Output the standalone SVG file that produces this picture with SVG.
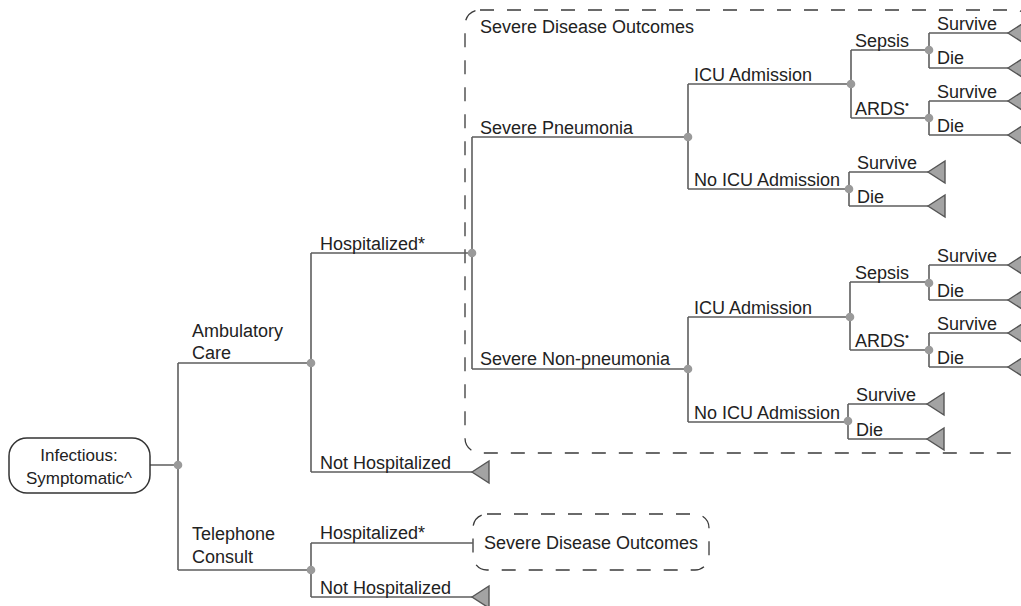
<svg xmlns="http://www.w3.org/2000/svg" width="1021" height="606" viewBox="0 0 1021 606">
<defs>
<style>
.ln{fill:none;stroke:#5e5e5e;stroke-width:1.6}
.dot{fill:#9a9a9a;stroke:none}
.tri{fill:#a3a3a3;stroke:#555;stroke-width:1.4;stroke-linejoin:miter}
.box{fill:none;stroke:#3a3a3a;stroke-width:1.3;stroke-dasharray:14 13}
.root{fill:#fff;stroke:#333;stroke-width:1.5}
text{font-family:"Liberation Sans",Arial,sans-serif;font-size:18px;fill:#222}
.sm{font-size:17px}
</style>
<polygon id="t" class="tri" points="0,0 17,-11 17,11"/>
<circle id="d" class="dot" r="4.3"/>
</defs>

<g id="boxes">
<rect id="sdo-big" class="box" x="465" y="10" width="565" height="443" rx="15"/>
<rect id="sdo-small" class="box" x="473" y="514" width="236" height="56" rx="14"/>
</g>

<g id="connectors">
<path class="ln" d="M150,465 H178 M178,363 V570 M178,363 H311 M178,570 H311"/>
<path class="ln" d="M311,253 V472 M311,253 H472 M311,472 H472"/>
<path class="ln" d="M311,543 V597 M311,543 H473 M311,597 H472"/>
<path class="ln" d="M472,137 V369 M472,137 H688 M472,369 H688"/>
<path class="ln" d="M688,84 V189 M688,84 H851 M688,189 H849"/>
<path class="ln" d="M851,50 V118 M851,50 H929 M851,118 H929"/>
<path class="ln" d="M929,33 V68 M929,33 H1008 M929,68 H1008"/>
<path class="ln" d="M929,101 V135 M929,101 H1008 M929,135 H1008"/>
<path class="ln" d="M849,172 V206 M849,172 H928 M849,206 H928"/>
<path class="ln" d="M688,317 V422 M688,317 H850 M688,422 H848"/>
<path class="ln" d="M850,282 V350 M850,282 H929 M850,350 H929"/>
<path class="ln" d="M929,265 V300 M929,265 H1008 M929,300 H1008"/>
<path class="ln" d="M929,333 V367 M929,333 H1008 M929,367 H1008"/>
<path class="ln" d="M848,404 V439 M848,404 H927 M848,439 H927"/>
</g>

<g id="chance-nodes">
<use href="#d" x="178" y="465"/>
<use href="#d" x="311" y="363"/>
<use href="#d" x="311" y="570"/>
<use href="#d" x="472" y="253"/>
<use href="#d" x="688" y="137"/>
<use href="#d" x="851" y="84"/>
<use href="#d" x="929" y="50"/>
<use href="#d" x="929" y="118"/>
<use href="#d" x="849" y="189"/>
<use href="#d" x="688" y="369"/>
<use href="#d" x="850" y="317"/>
<use href="#d" x="929" y="283"/>
<use href="#d" x="929" y="350"/>
<use href="#d" x="848" y="421"/>
</g>

<g id="terminal-nodes">
<use href="#t" x="472" y="472"/>
<use href="#t" x="472" y="597"/>
<use href="#t" x="1008" y="33"/>
<use href="#t" x="1008" y="68"/>
<use href="#t" x="1008" y="101"/>
<use href="#t" x="1008" y="135"/>
<use href="#t" x="928" y="172"/>
<use href="#t" x="928" y="206"/>
<use href="#t" x="1008" y="265"/>
<use href="#t" x="1008" y="300"/>
<use href="#t" x="1008" y="333"/>
<use href="#t" x="1008" y="367"/>
<use href="#t" x="927" y="404"/>
<use href="#t" x="927" y="439"/>
</g>

<g id="root">
<rect class="root" x="9" y="438" width="141" height="55" rx="18"/>
<text class="sm" x="79" y="461" text-anchor="middle">Infectious:</text>
<text class="sm" x="79" y="484" text-anchor="middle">Symptomatic^</text>
</g>

<g id="labels">
<text x="192" y="337">Ambulatory</text>
<text x="192" y="359">Care</text>
<text x="192" y="540">Telephone</text>
<text x="192" y="563">Consult</text>
<text x="320" y="250">Hospitalized*</text>
<text x="320" y="469">Not Hospitalized</text>
<text x="320" y="539">Hospitalized*</text>
<text x="320" y="594">Not Hospitalized</text>
<text x="591" y="549" text-anchor="middle">Severe Disease Outcomes</text>
<text x="480" y="33">Severe Disease Outcomes</text>
<text x="480" y="134">Severe Pneumonia</text>
<text x="480" y="365">Severe Non-pneumonia</text>
<text x="694" y="81">ICU Admission</text>
<text x="694" y="186">No ICU Admission</text>
<text x="694" y="314">ICU Admission</text>
<text x="694" y="419">No ICU Admission</text>
<text x="855" y="47">Sepsis</text>
<text x="855" y="115">ARDS<tspan font-size="11" dy="-7">•</tspan></text>
<text x="855" y="279">Sepsis</text>
<text x="855" y="347">ARDS<tspan font-size="11" dy="-7">•</tspan></text>
<text x="937" y="30">Survive</text>
<text x="937" y="64">Die</text>
<text x="937" y="98">Survive</text>
<text x="937" y="132">Die</text>
<text x="857" y="169">Survive</text>
<text x="857" y="203">Die</text>
<text x="937" y="262">Survive</text>
<text x="937" y="297">Die</text>
<text x="937" y="330">Survive</text>
<text x="937" y="364">Die</text>
<text x="856" y="401">Survive</text>
<text x="856" y="436">Die</text>
</g>
</svg>
